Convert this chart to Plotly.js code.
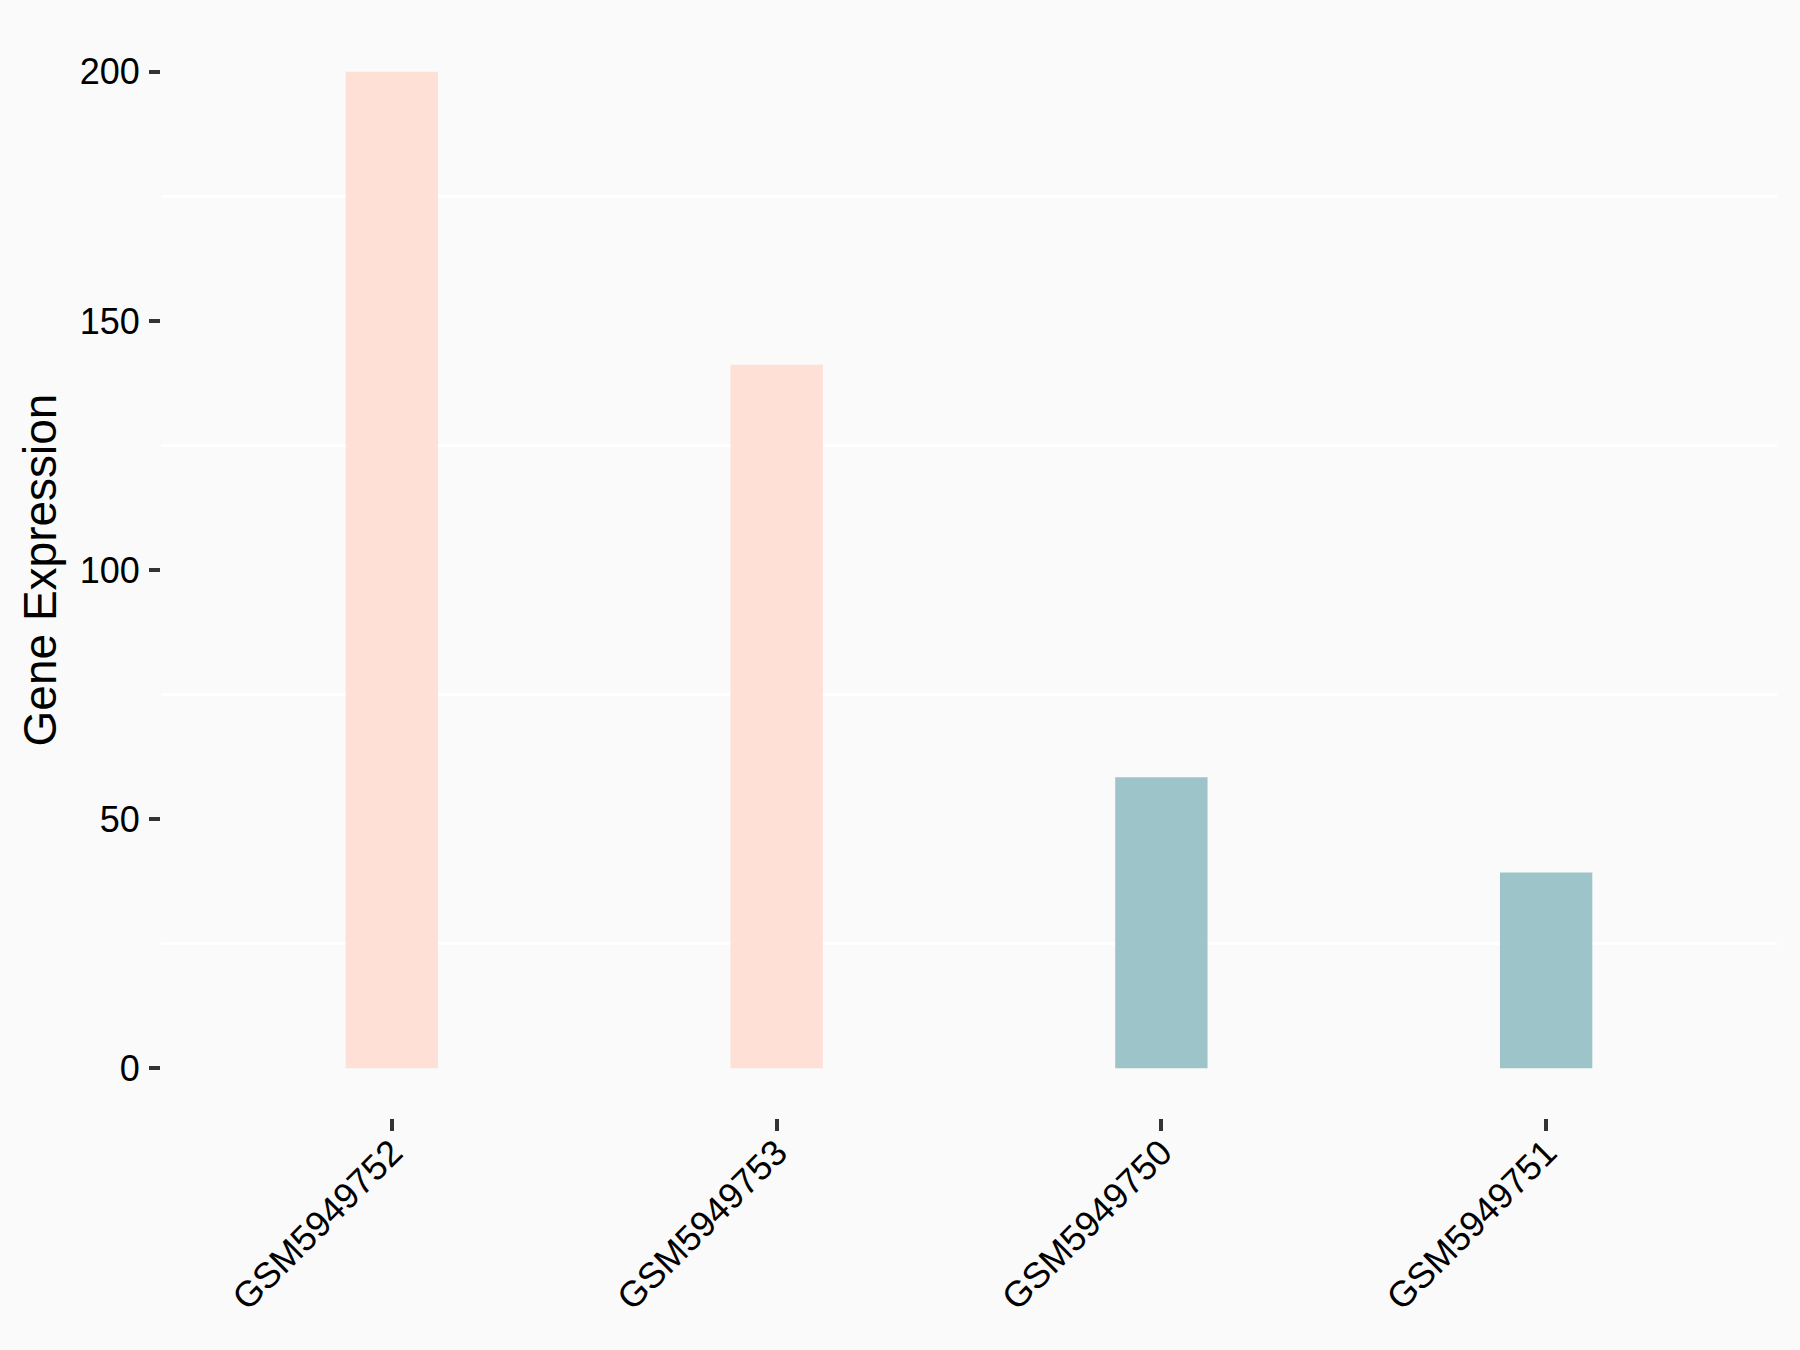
<!DOCTYPE html>
<html>
<head>
<meta charset="utf-8">
<script src="https://cdn.plot.ly/plotly-3.0.1.min.js"></script>
<style>
  html, body { margin: 0; padding: 0; background: #FAFAFA; }
  #chart { width: 1800px; height: 1350px; }
</style>
</head>
<body>
<div id="chart"></div>
<script>
// Data
const samples = ["GSM5949752", "GSM5949753", "GSM5949750", "GSM5949751"];
const expression = [200.0, 141.2, 58.4, 39.3];
const groupColors = ["#FEE0D6", "#FEE0D6", "#9DC4C8", "#9DC4C8"];
const yTicks = [0, 50, 100, 150, 200];

const trace = {
  type: "bar",
  x: samples,
  y: expression,
  width: 0.24,
  marker: { color: groupColors, line: { width: 0 } },
  hoverinfo: "x+y"
};

const fontFam = "Liberation Sans, Arial, Helvetica, sans-serif";

const layout = {
  width: 1800,
  height: 1350,
  paper_bgcolor: "#FAFAFA",
  plot_bgcolor: "#FAFAFA",
  margin: { l: 161, r: 23, t: 22, b: 232, pad: 0 },
  showlegend: false,
  font: { family: fontFam, color: "#000000" },
  xaxis: {
    type: "category",
    range: [-0.6, 3.6],
    showgrid: false,
    zeroline: false,
    showline: false,
    ticks: "outside",
    ticklen: 12,
    tickwidth: 4,
    tickcolor: "#333333",
    tickangle: -45,
    tickfont: { family: fontFam, size: 36, color: "#000000" },
    ticklabelstandoff: -14
  },
  yaxis: {
    range: [-10, 210],
    tickmode: "array",
    tickvals: yTicks,
    ticktext: yTicks.map(String),
    showgrid: false,
    zeroline: false,
    showline: false,
    ticks: "outside",
    ticklen: 11,
    tickwidth: 4,
    tickcolor: "#333333",
    tickfont: { family: fontFam, size: 36, color: "#000000" },
    ticklabelstandoff: 2,
    minor: {
      tickmode: "linear",
      tick0: 25,
      dtick: 50,
      showgrid: true,
      gridcolor: "#FFFFFF",
      gridwidth: 2.5,
      ticks: ""
    },
    title: {
      text: "Gene Expression",
      font: { family: fontFam, size: 46, color: "#000000" },
      standoff: 8
    }
  }
};

Plotly.newPlot("chart", [trace], layout, { displayModeBar: false, staticPlot: true });
</script>
</body>
</html>
